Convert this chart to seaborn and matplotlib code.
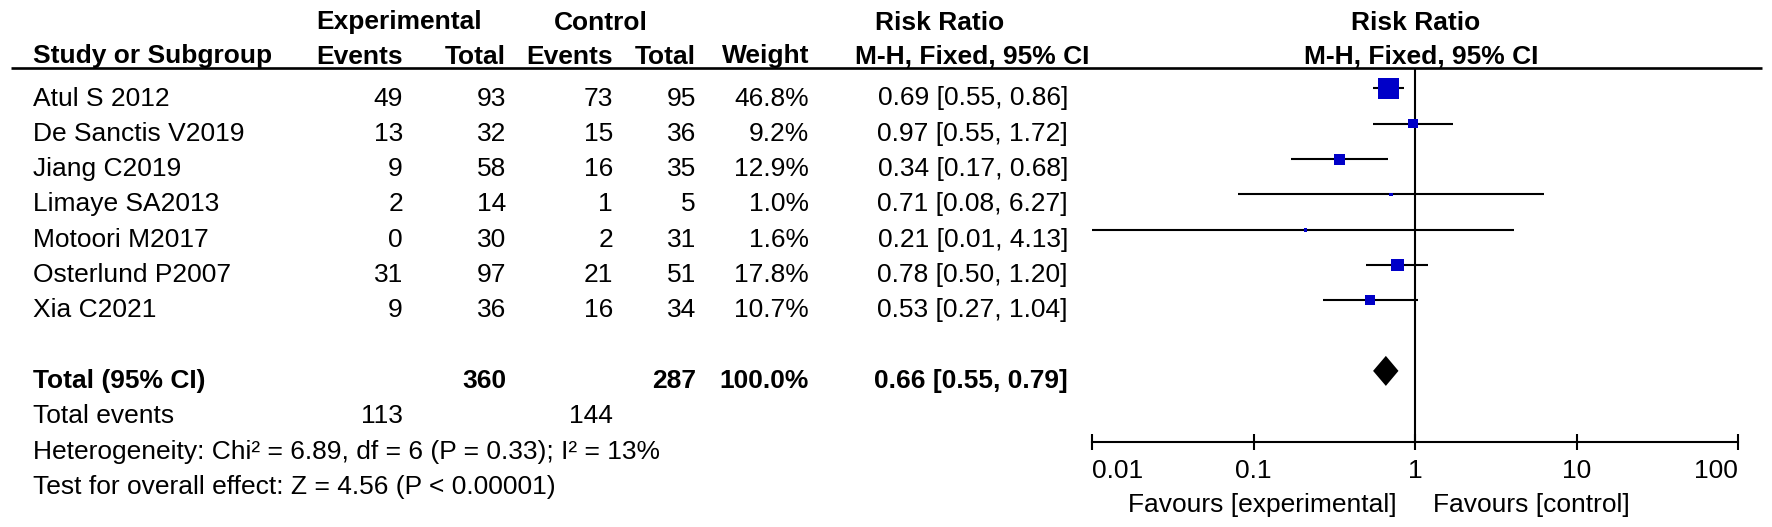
import matplotlib
matplotlib.use("Agg")
import matplotlib.pyplot as plt
import seaborn as sns
import pandas as pd
import numpy as np
from matplotlib.ticker import NullLocator
from matplotlib.transforms import blended_transform_factory

# ---------------- data ----------------
studies = ["Atul S 2012", "De Sanctis V2019", "Jiang C2019", "Limaye SA2013",
           "Motoori M2017", "Osterlund P2007", "Xia C2021"]
exp_events = [49, 13, 9, 2, 0, 31, 9]
exp_total = [93, 32, 58, 14, 30, 97, 36]
ctrl_events = [73, 15, 16, 1, 2, 21, 16]
ctrl_total = [95, 36, 35, 5, 31, 51, 34]
weights = [46.8, 9.2, 12.9, 1.0, 1.6, 17.8, 10.7]
rr = [0.69, 0.97, 0.34, 0.71, 0.21, 0.78, 0.53]
ci_low = [0.55, 0.55, 0.17, 0.08, 0.01, 0.50, 0.27]
ci_high = [0.86, 1.72, 0.68, 6.27, 4.13, 1.20, 1.04]

total_rr, total_low, total_high = 0.66, 0.55, 0.79
total_exp, total_ctrl = 360, 287
total_weight = 100.0
total_exp_events, total_ctrl_events = 113, 144
heterogeneity = "Heterogeneity: Chi² = 6.89, df = 6 (P = 0.33); I² = 13%"
overall_test = "Test for overall effect: Z = 4.56 (P < 0.00001)"

xticks = [0.01, 0.1, 1, 10, 100]
xtick_labels = ["0.01", "0.1", "1", "10", "100"]

# ---------------- style ----------------
sns.set_theme(style="white", rc={"text.color": "black", "xtick.color": "black",
                                 "axes.edgecolor": "black", "xtick.labelcolor": "black"})
plt.rcParams["font.family"] = ["Liberation Sans", "DejaVu Sans"]
FS = 19
BLUE = "#0000C8"

W, H = 1772, 527
fig = plt.figure(figsize=(W / 100, H / 100), dpi=100)
fig.patch.set_facecolor("white")

# ---------------- table (pixel layout axes) ----------------
ax_t = fig.add_axes([0, 0, 1, 1])
ax_t.set_xlim(0, W)
ax_t.set_ylim(H, 0)
ax_t.axis("off")

ROW0, STEP = 105.5, 35.3          # text baseline of first study row, row spacing
def base(r):
    return ROW0 + STEP * r

X_NAME, X_EE, X_ET, X_CE, X_CT, X_W, X_RR = 33, 403, 506, 613, 696, 809, 1068
H1, H2 = 29.5, 63.5

def txt(x, y, s, ha="left", bold=False):
    ax_t.text(x, y, s, ha=ha, va="baseline", fontsize=FS,
              fontweight="bold" if bold else "normal")

# headers
txt(399, H1, "Experimental", "center", True)
txt(601, H1, "Control", "center", True)
txt(940, H1, "Risk Ratio", "center", True)
txt(1416, H1, "Risk Ratio", "center", True)
txt(X_NAME, H2, "Study or Subgroup", "left", True)
txt(X_EE, H2, "Events", "right", True)
txt(X_ET, H2, "Total", "right", True)
txt(X_CE, H2, "Events", "right", True)
txt(X_CT, H2, "Total", "right", True)
txt(X_W, H2, "Weight", "right", True)
txt(972, H2, "M-H, Fixed, 95% CI", "center", True)
txt(1421, H2, "M-H, Fixed, 95% CI", "center", True)
ax_t.hlines(68, 11, 1762, color="black", lw=1.9)

# study rows
for i, name in enumerate(studies):
    y = base(i)
    txt(X_NAME, y, name)
    txt(X_EE, y, str(exp_events[i]), "right")
    txt(X_ET, y, str(exp_total[i]), "right")
    txt(X_CE, y, str(ctrl_events[i]), "right")
    txt(X_CT, y, str(ctrl_total[i]), "right")
    txt(X_W, y, f"{weights[i]:.1f}%", "right")
    txt(X_RR, y, f"{rr[i]:.2f} [{ci_low[i]:.2f}, {ci_high[i]:.2f}]", "right")

# totals
n = len(studies)
y = base(n + 1)
txt(X_NAME, y, "Total (95% CI)", "left", True)
txt(X_ET, y, str(total_exp), "right", True)
txt(X_CT, y, str(total_ctrl), "right", True)
txt(X_W, y, f"{total_weight:.1f}%", "right", True)
txt(X_RR, y, f"{total_rr:.2f} [{total_low:.2f}, {total_high:.2f}]", "right", True)
y = base(n + 2)
txt(X_NAME, y, "Total events")
txt(X_EE, y, str(total_exp_events), "right")
txt(X_CE, y, str(total_ctrl_events), "right")
txt(X_NAME, base(n + 3), heterogeneity)
txt(X_NAME, base(n + 4), overall_test)

# ---------------- forest plot ----------------
AX_L, AX_R, AX_TOP, AX_BOT = 1092, 1738, 68, 442
ax_f = fig.add_axes([AX_L / W, (H - AX_BOT) / H, (AX_R - AX_L) / W, (AX_BOT - AX_TOP) / H])
ax_f.set_facecolor("none")
ax_f.set_xscale("log")
ax_f.set_xlim(xticks[0], xticks[-1])
ax_f.set_ylim(AX_BOT, AX_TOP)

MK0 = 88.5
df = pd.DataFrame({"study": studies, "rr": rr, "lo": ci_low, "hi": ci_high, "weight": weights})
df["y"] = MK0 + STEP * np.arange(n)

ax_f.axvline(1, color="black", lw=1.5, zorder=1)
ax_f.hlines(df["y"], df["lo"], df["hi"], color="black", lw=1.5, zorder=2)
sns.scatterplot(data=df, x="rr", y="y", size="weight", sizes=(0, 228), size_norm=(0, 46.8),
                marker="s", color=BLUE, edgecolor="none", linewidth=0, legend=False,
                ax=ax_f, zorder=3)

yd = MK0 + STEP * (n + 1)
hd = 15
ax_f.fill([total_low, total_rr, total_high, total_rr], [yd, yd - hd, yd, yd + hd],
          color="black", lw=0, zorder=3)

for s in ["top", "left", "right"]:
    ax_f.spines[s].set_visible(False)
ax_f.spines["bottom"].set_linewidth(1.5)
ax_f.spines["bottom"].set_color("black")
ax_f.set_xticks(xticks)
ax_f.set_xticklabels(xtick_labels)
ax_f.xaxis.set_minor_locator(NullLocator())
ax_f.set_yticks([])
ax_f.set_xlabel("")
ax_f.set_ylabel("")
ax_f.tick_params(axis="x", direction="inout", length=12, width=1.5, labelsize=FS,
                 pad=6, colors="black", bottom=True)
labs = ax_f.get_xticklabels()
labs[0].set_ha("left")
labs[-1].set_ha("right")

trans = blended_transform_factory(ax_f.transData, ax_f.transAxes)
ax_f.annotate("Favours [experimental]", xy=(1, 0), xycoords=trans, xytext=(-13, -50.5),
              textcoords="offset points", ha="right", va="baseline", fontsize=FS)
ax_f.annotate("Favours [control]", xy=(1, 0), xycoords=trans, xytext=(13, -50.5),
              textcoords="offset points", ha="left", va="baseline", fontsize=FS)

fig.savefig("out.png", dpi=100, facecolor="white")
